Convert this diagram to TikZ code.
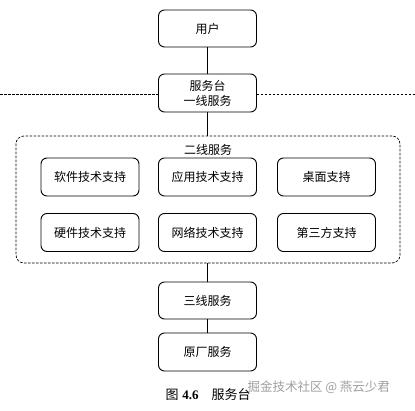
\documentclass[tikz,border=0pt]{standalone}
\usepackage{fontspec}
\setmainfont{Liberation Serif}
\newfontfamily\cjk{Noto Sans CJK SC}
\begin{document}
\begin{tikzpicture}[x=1pt,y=-1pt,
  box/.style={draw,line width=0.9pt,rounded corners=6pt,minimum width=98pt,minimum height=37pt,inner sep=0pt,font=\cjk\fontsize{12}{15}\selectfont,align=center},
  group/.style={draw,dashed,dash pattern=on 2.5pt off 1.5pt,line width=0.7pt,rounded corners=8pt,minimum width=384pt,minimum height=127pt,inner sep=0pt},
  conn/.style={line width=0.9pt},
  sep/.style={dashed,dash pattern=on 2.5pt off 1.5pt,line width=0.7pt}]
\useasboundingbox (0,0) rectangle (415,411);
\fill[white] (0,0) rectangle (415,411);
\node[box] (user) at (207.5,28.5) {用户};
\node[box,minimum height=38pt] (desk) at (207.5,93) {服务台\\一线服务};
\coordinate (L) at (0,94);
\coordinate (R) at (415,94);
\draw[sep] (L) -- (desk.west |- L);
\draw[sep] (desk.east |- R) -- (R);
\node[group] (second) at (208,199.5) {};
\node[font=\cjk\fontsize{12}{15}\selectfont] (secondlabel) at (208,150) {二线服务};
\node[box,minimum height=38pt] (sw) at (90,177) {软件技术支持};
\node[box,minimum height=38pt] (app) at (207.5,177) {应用技术支持};
\node[box,minimum height=38pt] (dt) at (326.5,177) {桌面支持};
\node[box,minimum height=38pt] (hw) at (90,232.5) {硬件技术支持};
\node[box,minimum height=38pt] (net) at (207.5,232.5) {网络技术支持};
\node[box,minimum height=38pt] (third) at (326.5,232.5) {第三方支持};
\node[box] (l3) at (207.5,300.5) {三线服务};
\node[box,minimum height=38pt] (oem) at (207.5,352) {原厂服务};
\draw[conn] (user) -- (desk);
\draw[conn] (desk) -- (desk.south |- second.north);
\draw[conn] (l3.north |- second.south) -- (l3);
\draw[conn] (l3) -- (oem);
\node[font=\fontsize{13}{15}\selectfont,anchor=west] (cap) at (162,395) {{\cjk 图}\hspace{0.3em}\textbf{4.6}\hspace{1em}{\cjk 服务台}};
\node[font=\cjk\fontsize{12.5}{15}\selectfont,text=gray!75,anchor=west] (wm) at (244,387) {掘金技术社区 @ 燕云少君};
\end{tikzpicture}
\end{document}
